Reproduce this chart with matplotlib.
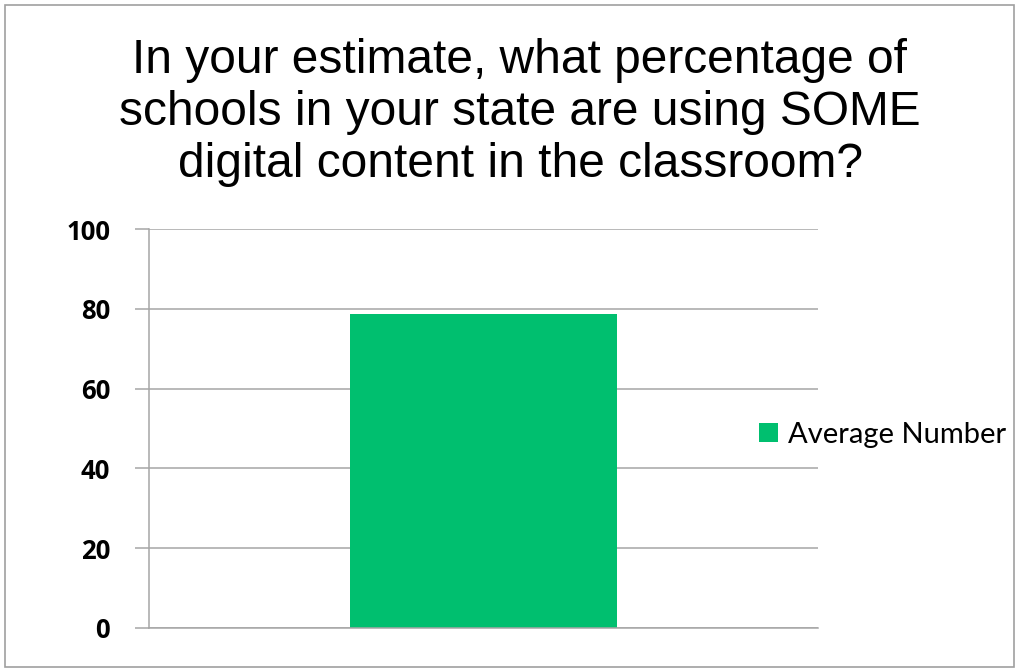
import matplotlib.pyplot as plt
from matplotlib.patches import Rectangle

TITLE = ("In your estimate, what percentage of\n"
         "schools in your state are using SOME\n"
         "digital content in the classroom?")
categories = [""]
average_number = [78.7]
y_ticks = [0, 20, 40, 60, 80, 100]

BAR_COLOR = "#00BF6F"
GRID_COLOR = "#A6A6A6"

W, H = 1019, 672
fig = plt.figure(figsize=(W / 100, H / 100), dpi=100)

# outer chart frame
fig.patches.append(Rectangle((5 / W, 5 / H), 1 - 10 / W, 1 - 10 / H,
                             transform=fig.transFigure, fill=False,
                             edgecolor="#A0A0A0", linewidth=1.2))

# title: baseline of the last line pinned, three centred lines
fig.text(520 / W, 1 - 177 / H, TITLE, ha="center", va="baseline",
         multialignment="center", fontsize=34.5, family="Liberation Sans",
         linespacing=1.2)

ax = fig.add_axes([149 / W, 1 - 628 / H, 669 / W, 399 / H])
ax.bar(range(len(categories)), average_number, width=0.4, color=BAR_COLOR,
       label="Average Number", zorder=2)
ax.set_xlim(-0.5, 0.5)
ax.set_ylim(0, 100)
ax.set_yticks(y_ticks)
ax.set_xticks([])
ax.yaxis.grid(True, color=GRID_COLOR, linewidth=1.1, zorder=0)
for side in ("top", "right"):
    ax.spines[side].set_visible(False)
for side in ("left", "bottom"):
    ax.spines[side].set_color(GRID_COLOR)
    ax.spines[side].set_linewidth(1.1)
ax.tick_params(axis="y", length=10, width=1.1, color=GRID_COLOR, pad=18)
for lbl in ax.get_yticklabels():
    lbl.set_fontsize(18.5)
    lbl.set_fontweight("bold")
    lbl.set_family("Open Sans")

ax.legend(loc="center left", bbox_to_anchor=(744 / W, 1 - 435 / H),
          bbox_transform=fig.transFigure, frameon=False,
          prop={"family": "Lato", "size": 21}, handlelength=0.65,
          handleheight=0.65, handletextpad=0.35, borderpad=0)

fig.savefig("out.png", dpi=100)
